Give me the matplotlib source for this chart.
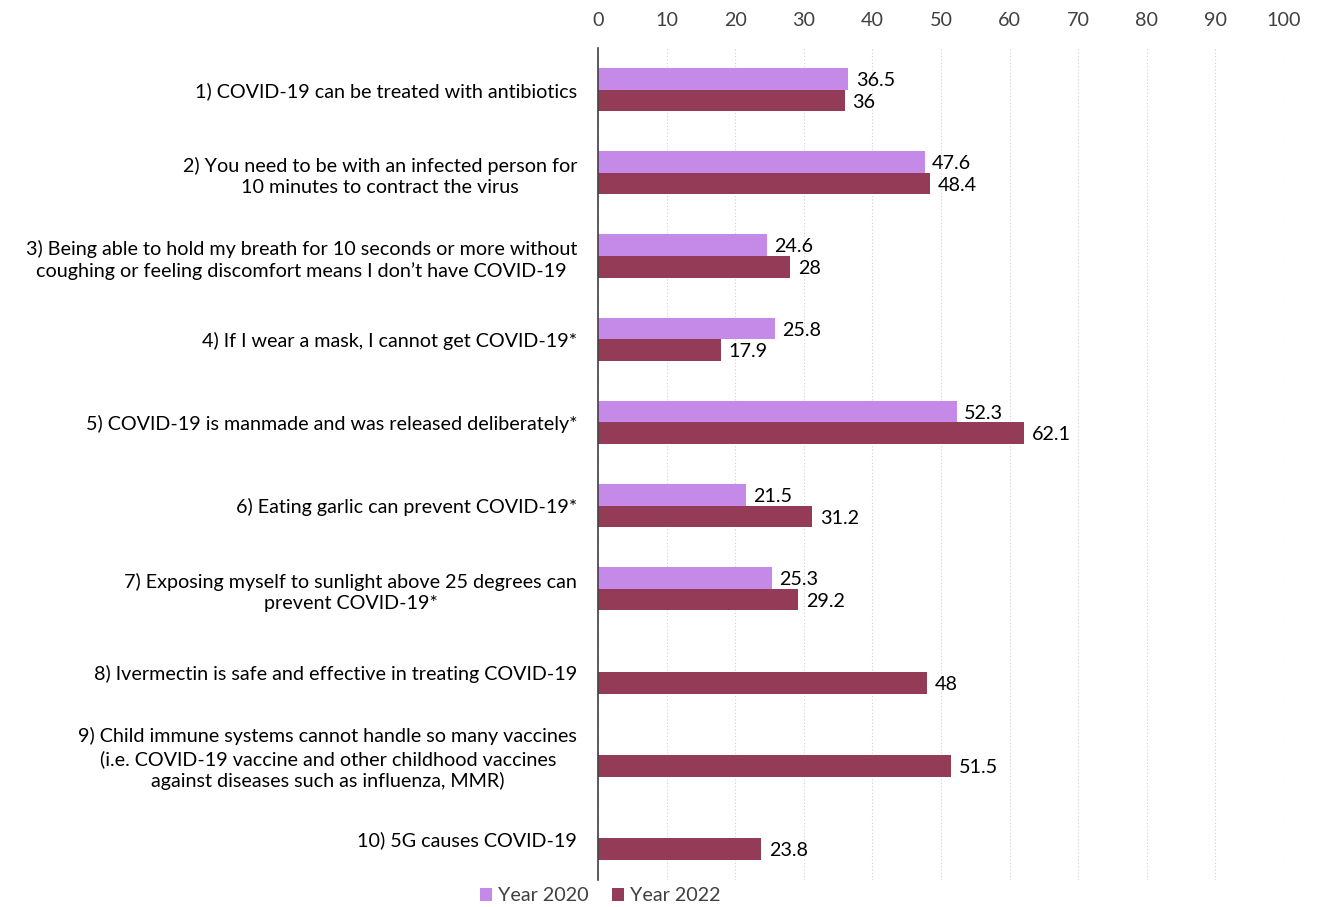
import numpy as np
import matplotlib.pyplot as plt

plt.rcParams['font.family'] = ['Lato', 'DejaVu Sans']

# data
labels = [
    "1) COVID-19 can be treated with antibiotics",
    "2) You need to be with an infected person for\n10 minutes to contract the virus",
    "3) Being able to hold my breath for 10 seconds or more without\ncoughing or feeling discomfort means I don\u2019t have COVID-19",
    "4) If I wear a mask, I cannot get COVID-19*",
    "5) COVID-19 is manmade and was released deliberately*",
    "6) Eating garlic can prevent COVID-19*",
    "7) Exposing myself to sunlight above 25 degrees can\nprevent COVID-19*",
    "8) Ivermectin is safe and effective in treating COVID-19",
    "9) Child immune systems cannot handle so many vaccines\n(i.e. COVID-19 vaccine and other childhood vaccines\nagainst diseases such as influenza, MMR)",
    "10) 5G causes COVID-19",
]
year_2020 = [36.5, 47.6, 24.6, 25.8, 52.3, 21.5, 25.3, None, None, None]
year_2022 = [36, 48.4, 28, 17.9, 62.1, 31.2, 29.2, 48, 51.5, 23.8]

c2020 = '#C589E8'
c2022 = '#943B58'

fig = plt.figure(figsize=(13.19, 9.07), dpi=100)
ax = fig.add_axes([0.4534, 0.0298, 0.5201, 0.9172])

y = np.arange(len(labels))
h = 0.26
fs = 14.2

for i in range(len(labels)):
    if year_2020[i] is not None:
        ax.barh(y[i] - h / 2, year_2020[i], height=h, color=c2020,
                label='Year 2020' if i == 0 else None)
        ax.text(year_2020[i] + 1.1, y[i] - h / 2 + 0.02, f"{year_2020[i]:g}",
                va='center', ha='left', fontsize=fs)
    ax.barh(y[i] + h / 2, year_2022[i], height=h, color=c2022,
            label='Year 2022' if i == 0 else None)
    ax.text(year_2022[i] + 1.1, y[i] + h / 2 + 0.02, f"{year_2022[i]:g}",
            va='center', ha='left', fontsize=fs)

ax.set_xlim(0, 100)
ax.set_ylim(9.5, -0.5)
ax.set_xticks(np.arange(0, 101, 10))
ax.xaxis.tick_top()
ax.tick_params(axis='x', length=0, labelsize=fs, colors='#404040', pad=14)
ax.set_yticks(y)
ax.set_yticklabels(labels, fontsize=fs)
ax.tick_params(axis='y', length=0, pad=15)
for t in ax.get_yticklabels():
    t.set_multialignment('center')
    t.set_linespacing(1.3)

ax.grid(axis='x', linestyle=(0, (1, 2)), color='#D0D0D0', linewidth=0.8)
ax.set_axisbelow(True)
for s in ['top', 'right', 'bottom']:
    ax.spines[s].set_visible(False)
ax.spines['left'].set_color('#404040')
ax.spines['left'].set_linewidth(1.2)

ax.legend(loc='center', bbox_to_anchor=(0.003, -0.019), ncol=2, frameon=False,
          fontsize=fs, handlelength=0.6, handleheight=0.6, handletextpad=0.3,
          columnspacing=1.2, labelcolor='#404040', borderpad=0)

fig.savefig('out.png', dpi=100)
